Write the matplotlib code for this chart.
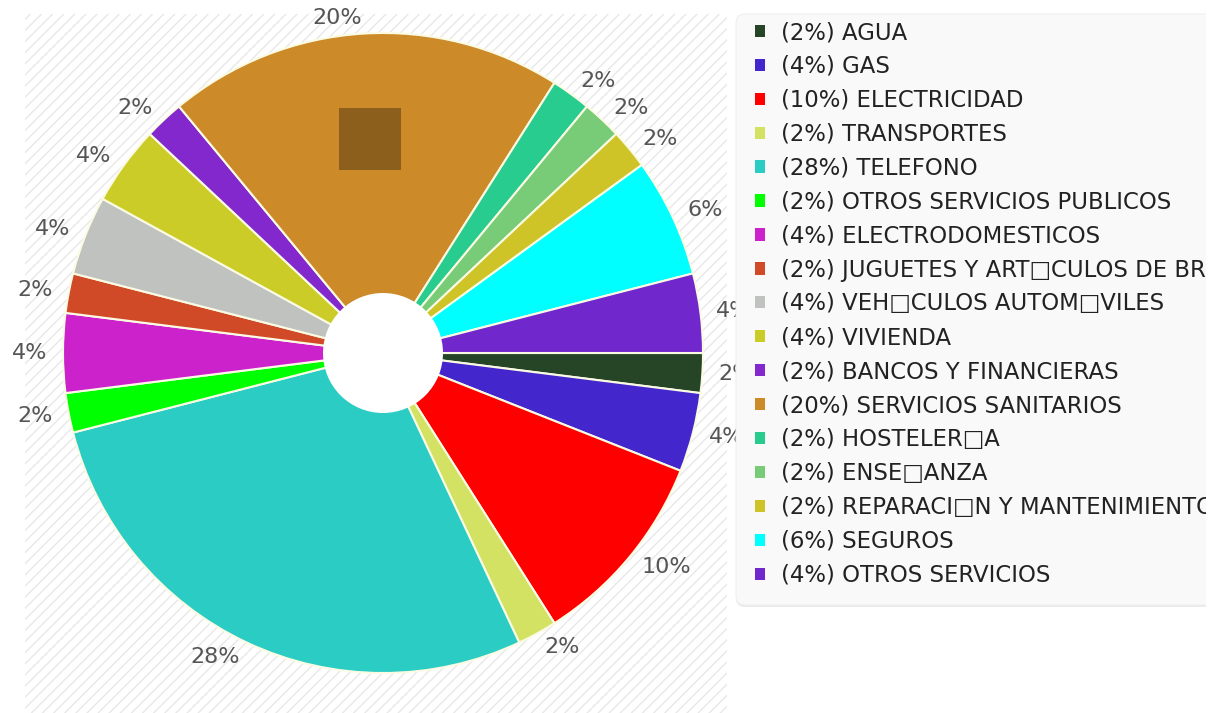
import matplotlib
matplotlib.use("Agg")
import matplotlib.pyplot as plt
from matplotlib.patches import Rectangle, Circle, FancyBboxPatch, Patch
import numpy as np

# categorias y porcentajes (leyenda, sentido horario desde las 3 en punto)
categorias = [
    "AGUA", "GAS", "ELECTRICIDAD", "TRANSPORTES", "TELEFONO",
    "OTROS SERVICIOS PUBLICOS", "ELECTRODOMESTICOS",
    "JUGUETES Y ART\u25a1CULOS DE BROMA", "VEH\u25a1CULOS AUTOM\u25a1VILES",
    "VIVIENDA", "BANCOS Y FINANCIERAS", "SERVICIOS SANITARIOS",
    "HOSTELER\u25a1A", "ENSE\u25a1ANZA", "REPARACI\u25a1N Y MANTENIMIENTO",
    "SEGUROS", "OTROS SERVICIOS",
]
porcentajes = [2, 4, 10, 2, 28, 2, 4, 2, 4, 4, 2, 20, 2, 2, 2, 6, 4]
colores = [
    "#264426", "#4327cc", "#ff0000", "#d4e264", "#2accc4",
    "#00ff00", "#cc22cc", "#d04a28", "#bfc2bf",
    "#cccc28", "#8228cc", "#cc8a28",
    "#28cc8e", "#78cc78", "#cec428",
    "#00ffff", "#7028cc",
]

W, H = 1211, 713
fig = plt.figure(figsize=(W / 100, H / 100), dpi=100)
fig.patch.set_facecolor("white")

# panel del grafico (px: x 25..727, y 14..730)
ax = fig.add_axes([25 / W, (H - 730) / H, (727 - 25) / W, (730 - 14) / H])
cx, cy, R = 383, 353, 320

fondo = Rectangle((0, 0), 1, 1, transform=ax.transAxes, facecolor="white",
                  edgecolor="#e8e8e8", hatch="///", linewidth=0, zorder=0)
ax.add_patch(fondo)

wedges, textos = ax.pie(
    porcentajes, colors=colores, labels=[f"{p}%" for p in porcentajes],
    startangle=0, counterclock=False, radius=1, labeldistance=1.05,
    wedgeprops=dict(edgecolor="#fbfbe4", linewidth=1.5),
    textprops=dict(fontsize=16, color="#555555"),
)
ax.set_aspect("auto")
ax.set_xlim((25 - cx) / R, (727 - cx) / R)
ax.set_ylim((cy - 730) / R, (cy - 14) / R)

# agujero central
ax.add_patch(Circle((0, 0), 60 / R, facecolor="white", edgecolor="none", zorder=5))

# recuadro oscuro sobre SERVICIOS SANITARIOS
w = wedges[11]
ang = np.deg2rad((w.theta1 + w.theta2) / 2)
lado = 62 / R
mx, my = 0.67 * np.cos(ang), 0.67 * np.sin(ang)
ax.add_patch(Rectangle((mx - lado / 2, my - lado / 2), lado, lado,
                       facecolor="#8d5f1c", edgecolor="none", zorder=4))

for s in ["left", "right", "top"]:
    ax.spines[s].set_color("#dcdcdc")
ax.spines["bottom"].set_visible(False)
ax.set_xticks([])
ax.set_yticks([])

# capa superior para el panel de la leyenda (coordenadas en px)
ov = fig.add_axes([0, 0, 1, 1], zorder=1)
ov.set_xlim(0, W)
ov.set_ylim(H, 0)
ov.axis("off")
ov.patch.set_alpha(0)

ov.add_patch(FancyBboxPatch((736, 16), 520, 591,
                            boxstyle="round,pad=0,rounding_size=9",
                            facecolor="#e9e9e9", edgecolor="none"))
ov.add_patch(FancyBboxPatch((736, 14), 520, 591,
                            boxstyle="round,pad=0,rounding_size=9",
                            facecolor="#f9f9f9", edgecolor="#efefef", linewidth=0.8))

manejadores = [Patch(facecolor=c, edgecolor="none") for c in colores]
etiquetas = [f"({p}%) {c}" for p, c in zip(porcentajes, categorias)]
ov.legend(manejadores, etiquetas, loc="upper left",
          bbox_to_anchor=(755 / W, 1 - 21 / H), bbox_transform=fig.transFigure,
          frameon=False, fontsize=16.4, borderpad=0, borderaxespad=0,
          handlelength=0.45, handleheight=0.45, handletextpad=0.68,
          labelspacing=0.48, labelcolor="#222222")

# borde derecho blanco que recorta la leyenda
ov.add_patch(Rectangle((1206, 0), 10, H, facecolor="white", edgecolor="none", zorder=10))

fig.savefig("out.png", dpi=100)
